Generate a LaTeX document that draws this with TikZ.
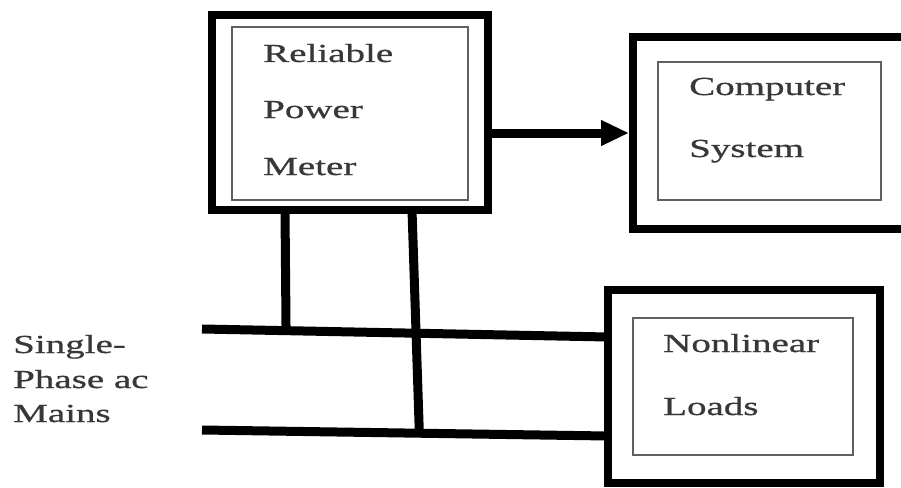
\documentclass[tikz,border=0pt]{standalone}
\usepackage{fontspec}
\setmainfont{Liberation Serif}
\newfontfamily\widefont[FakeStretch=1.5,FakeBold=0.8]{Liberation Serif}
\usetikzlibrary{arrows.meta,calc}
\definecolor{txt}{HTML}{383838}
\definecolor{inner}{HTML}{606060}
\begin{document}
\begin{tikzpicture}[x=1pt,y=-1pt,
  outerbox/.style={draw=black,line width=8.5pt,rectangle,outer sep=0pt,inner sep=0pt},
  innerbox/.style={draw=inner,line width=2.2pt,rectangle,outer sep=0pt,inner sep=0pt},
  lbl/.style={anchor=base west,inner sep=0pt,text=txt,font=\widefont\fontsize{26}{30}\selectfont},
  wire/.style={line width=9pt,line cap=butt},
  arr/.style={line width=9pt,-{Triangle[length=28pt,width=24pt]}}]
\useasboundingbox (0,0) rectangle (901,487);
\fill[white] (0,0) rectangle (901,487);
% boxes
\node[outerbox,minimum width=276pt,minimum height=195pt] (rpm) at (350,112.5) {};
\node[innerbox,minimum width=236pt,minimum height=173pt] (rpmi) at (350,113.5) {};
\node[outerbox,minimum width=272pt,minimum height=192pt] (comp) at (769,133) {};
\node[innerbox,minimum width=223pt,minimum height=138pt] (compi) at (769.5,131) {};
\node[outerbox,minimum width=272pt,minimum height=193pt] (nl) at (744,386.5) {};
\node[innerbox,minimum width=220pt,minimum height=137pt] (nli) at (743,386.5) {};
% labels
\node[lbl] (t1) at (263,62) {Reliable};
\node[lbl] (t2) at (263,118) {Power};
\node[lbl] (t3) at (263,175) {Meter};
\node[lbl] (t4) at (689,95) {Computer};
\node[lbl] (t5) at (689,157) {System};
\node[lbl] (t6) at (663,352) {Nonlinear};
\node[lbl] (t7) at (663,415) {Loads};
\node[lbl] (m1) at (13,353) {Single-};
\node[lbl] (m2) at (13,388) {Phase ac};
\node[lbl] (m3) at (13,422) {Mains};
% arrow
\draw[arr,shorten >=4pt] (rpm.east |- comp.west) -- (comp.west);
% mains
\coordinate (b1a) at (202,329);
\coordinate (b2a) at (202,430);
\coordinate (b1b) at ([yshift=49.5pt]nl.west);
\coordinate (b2b) at ([yshift=-49.5pt]nl.west);
\draw[wire] (b1a) -- (b1b);
\draw[wire] (b2a) -- (b2b);
\draw[wire] ([xshift=73pt]rpm.south west) -- ($(b1a)!0.207!(b1b)$);
\draw[wire] ([xshift=200pt]rpm.south west) -- ($(b2a)!0.535!(b2b)+(0,-4)$);
\end{tikzpicture}
\end{document}
